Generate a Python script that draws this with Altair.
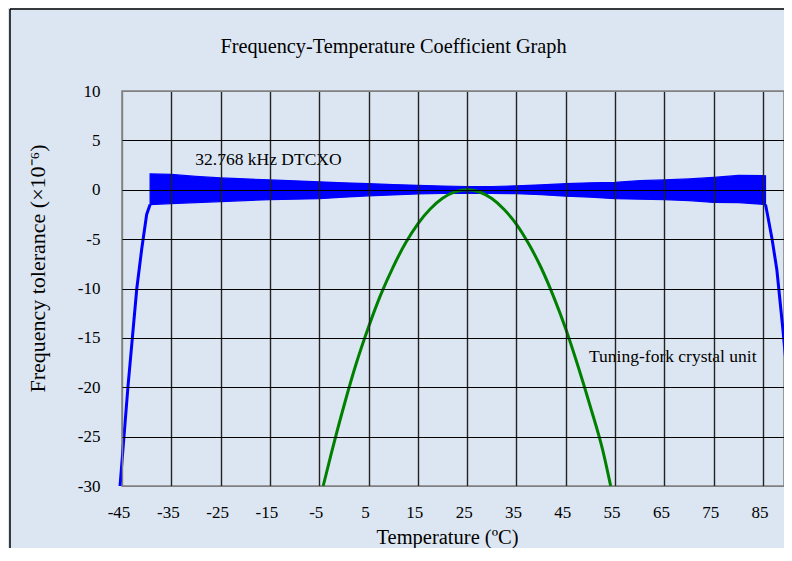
import altair as alt
import pandas as pd

FONT = "Liberation Serif"
BG = "#dce6f2"

# 32.768 kHz DTCXO: envelope of the dense oscillating trace
band_t = [-39.3, -35, -30, -25, -20, -15, -10, -5, 0, 5, 10, 15, 20, 25, 30, 35, 40, 45, 50, 55, 60, 65, 70, 75, 80, 85.5]
band_hi = [1.6, 1.55, 1.35, 1.2, 1.1, 1.0, 0.9, 0.8, 0.7, 0.62, 0.52, 0.45, 0.38, 0.33, 0.33, 0.4, 0.5, 0.62, 0.7, 0.75, 0.92, 1.0, 1.1, 1.25, 1.45, 1.42]
band_lo = [-1.5, -1.4, -1.3, -1.2, -1.1, -1.0, -0.95, -0.9, -0.75, -0.62, -0.52, -0.42, -0.38, -0.38, -0.38, -0.4, -0.5, -0.65, -0.75, -0.9, -0.95, -1.0, -1.1, -1.28, -1.3, -1.5]

# DTCXO out-of-range drops
left_t = [-45.4, -44.6, -43.8, -42.9, -42.0, -41.0, -40.0, -39.3]
left_v = [-30, -25, -20, -15, -10, -6, -2.5, -1.5]
right_t = [85.5, 85.9, 86.8, 87.8, 89.0, 90.3]
right_v = [-1.5, -2.5, -4.9, -8.1, -14.0, -21.0]

# Tuning-fork crystal unit
tf_t = [-4.2, -2.5, 0, 2.5, 5, 7.5, 10, 12.5, 15, 17.5, 20, 22.5, 25,
        27.5, 30, 32.5, 35, 37.5, 40, 42.5, 45, 47.5, 50, 52.5, 54.1]
tf_v = [-30, -26.6, -21.9, -17.6, -13.9, -10.6, -7.8, -5.4, -3.45, -1.95, -0.86, -0.21, 0,
        -0.23, -0.89, -2.0, -3.5, -5.5, -7.9, -10.8, -14.1, -17.9, -22.0, -26.4, -30]

x_ticks = [-45, -35, -25, -15, -5, 5, 15, 25, 35, 45, 55, 65, 75, 85]
y_ticks = [10, 5, 0, -5, -10, -15, -20, -25, -30]

labels = pd.DataFrame({
    "t": [-15.3, 66.7],
    "v": [2.46, -17.4],
    "txt": ["32.768 kHz DTCXO", "Tuning-fork crystal unit"],
})

band_df = pd.DataFrame({"t": band_t, "hi": band_hi, "lo": band_lo})
left_df = pd.DataFrame({"t": left_t, "v": left_v})
right_df = pd.DataFrame({"t": right_t, "v": right_v})
tf_df = pd.DataFrame({"t": tf_t, "v": tf_v})

xscale = alt.Scale(domain=[-45, 89.25], nice=False, zero=False)
yscale = alt.Scale(domain=[-30, 10], nice=False, zero=False)

xaxis = alt.Axis(
    values=x_ticks, title="Temperature (ºC)", grid=True,
    gridColor={"condition": {"test": "datum.value === -45", "value": "#808080"}, "value": "#222222"},
    gridWidth=1.4, domain=False, ticks=False, tickSize=0,
    labelExpr="datum.value + ''",
    labelFont=FONT, labelFontSize=17, labelColor="black", labelBaseline="alphabetic",
    labelPadding=31, labelOffset=-3.5, labelFlush=False,
    titleFont=FONT, titleFontSize=20.5, titleFontWeight="normal", titleColor="black",
    titleX=325, titleY=57, titleBaseline="alphabetic", titleAlign="center", zindex=1,
)
yaxis = alt.Axis(
    values=y_ticks, title="Frequency tolerance (×10⁻⁶)", grid=True,
    gridColor={"condition": {"test": "datum.value === -30 || datum.value === 10", "value": "#808080"}, "value": "black"},
    gridWidth=1.2, domain=False, ticks=False, tickSize=0,
    labelExpr="datum.value + ''",
    labelFont=FONT, labelFontSize=17, labelColor="black", labelPadding=22, labelFlush=False,
    titleFont=FONT, titleFontSize=22, titleFontWeight="normal", titleColor="black",
    titleX=-84.5, titleY=177, titleAngle=270, titleBaseline="middle", titleAlign="center", zindex=1,
)

base_x = alt.X("t:Q", scale=xscale, axis=xaxis)

band = alt.Chart(band_df).mark_area(
    color="#0000ff", opacity=1, stroke="#0000ff", strokeWidth=1.2
).encode(
    x=base_x,
    y=alt.Y("hi:Q", scale=yscale, axis=yaxis),
    y2="lo:Q",
)
left = alt.Chart(left_df).mark_line(color="#0000ff", strokeWidth=3).encode(
    x="t:Q", y="v:Q", order="v:Q"
)
right = alt.Chart(right_df).mark_line(color="#0000ff", strokeWidth=3).encode(
    x="t:Q", y="v:Q"
)
tf = alt.Chart(tf_df).mark_line(color="#008000", strokeWidth=3, interpolate="monotone").encode(
    x="t:Q", y="v:Q"
)
txt = alt.Chart(labels).mark_text(font=FONT, fontSize=17.5, color="black", baseline="alphabetic").encode(
    x="t:Q", y="v:Q", text="txt:N"
)

one = pd.DataFrame({"a": [0]})
title = alt.Chart(pd.DataFrame({"title": ["Frequency-Temperature Coefficient Graph"]})).mark_text(
    font=FONT, fontSize=20.3, color="black", baseline="alphabetic", align="center"
).encode(x=alt.value(271.5), y=alt.value(-38.3), text="title:N")
frame_left = alt.Chart(one).mark_rule(color="black", strokeWidth=1.5).encode(
    x=alt.value(-112), y=alt.value(-82), y2=alt.value(620)
)
frame_top = alt.Chart(one).mark_rule(color="black", strokeWidth=1.5).encode(
    x=alt.value(-112), x2=alt.value(700), y=alt.value(-82)
)

chart = alt.layer(band, left, right, tf, txt, title, frame_left, frame_top).properties(
    width=662, height=395,
    background=BG,
    padding={"left": 114, "top": 83, "right": 0, "bottom": 62},
    autosize=alt.AutoSizeParams(type="none"),
).configure_view(stroke="#808080", strokeWidth=1.5, fill=BG)

chart.save("out.html", embed_options={"renderer": "svg", "actions": False})
